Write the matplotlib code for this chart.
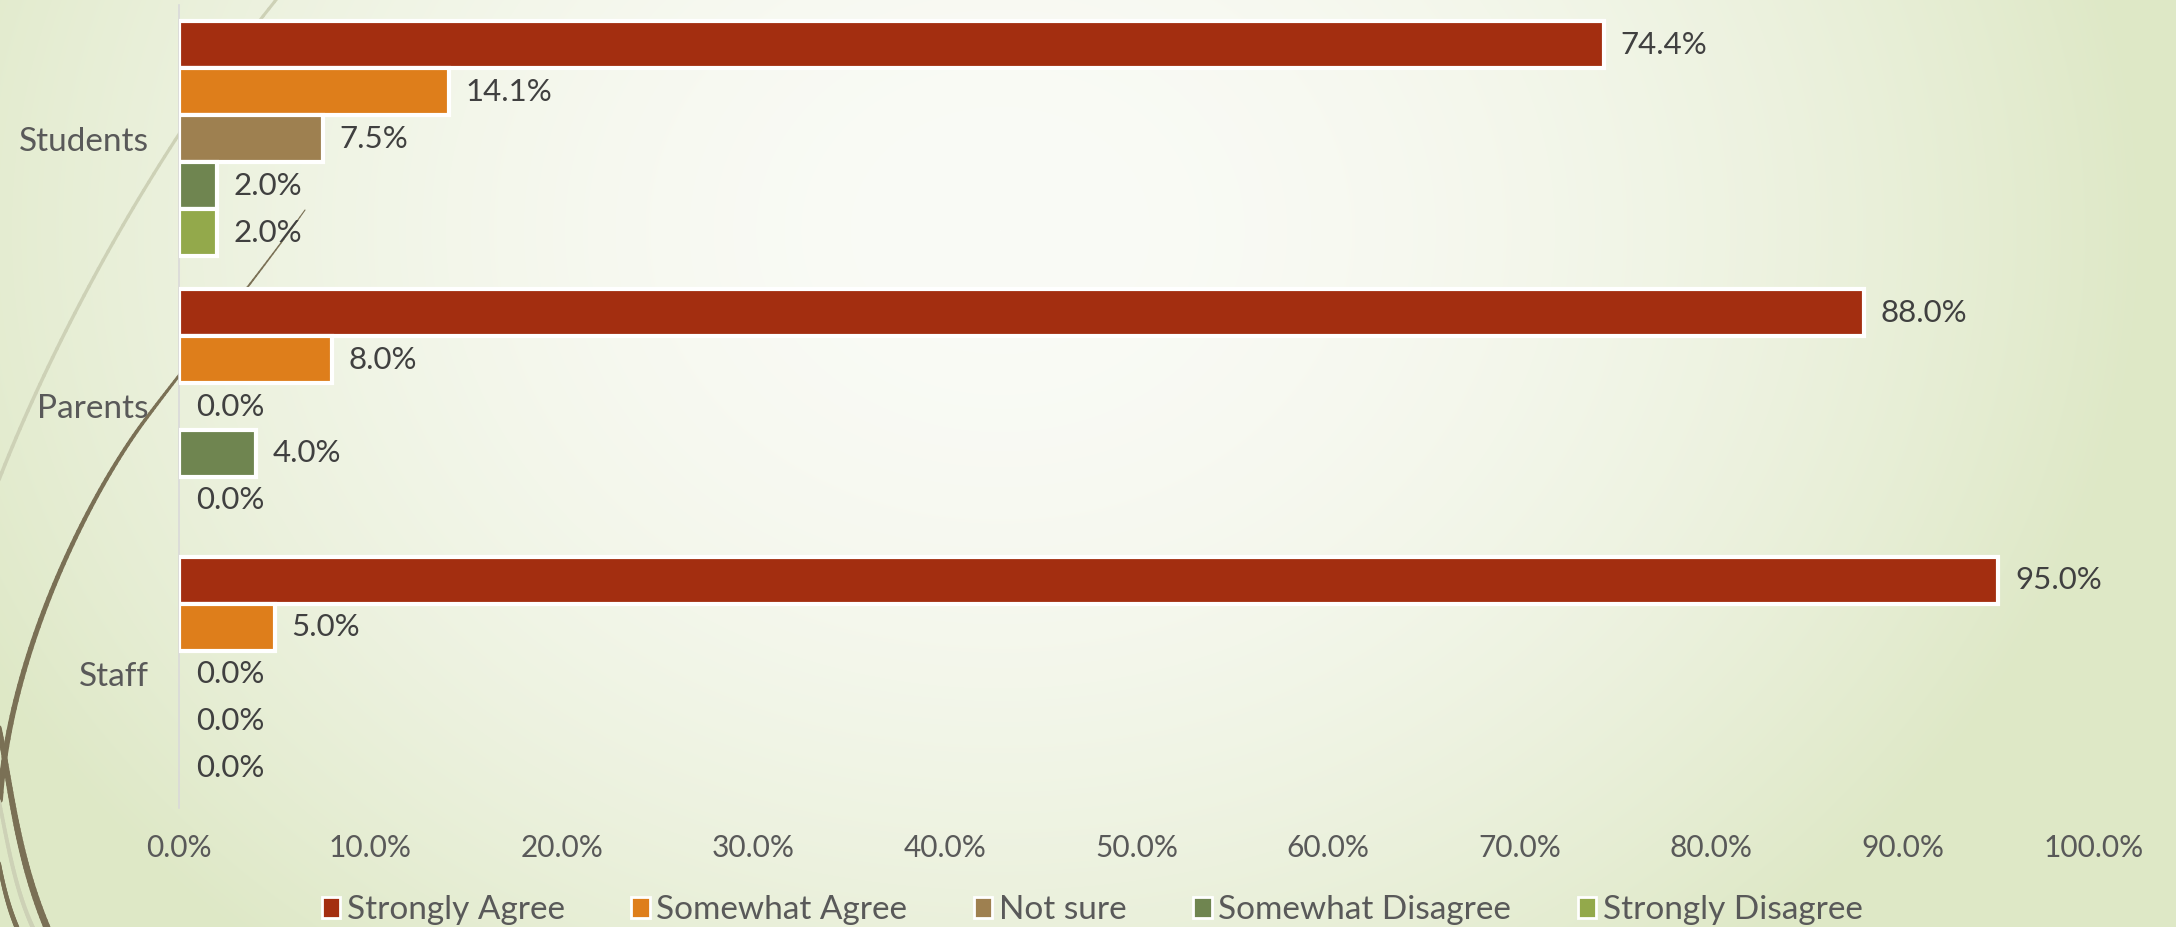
import numpy as np
import matplotlib
matplotlib.use("Agg")
import matplotlib.pyplot as plt
from matplotlib.patches import Patch
from matplotlib.collections import LineCollection

plt.rcParams['font.family'] = ['Lato', 'DejaVu Sans']

# survey data (percent)
groups = ['Students', 'Parents', 'Staff']
responses = ['Strongly Agree', 'Somewhat Agree', 'Not sure',
             'Somewhat Disagree', 'Strongly Disagree']
strongly_agree = [74.4, 88.0, 95.0]
somewhat_agree = [14.1, 8.0, 5.0]
not_sure = [7.5, 0.0, 0.0]
somewhat_disagree = [2.0, 4.0, 0.0]
strongly_disagree = [2.0, 0.0, 0.0]
series = [strongly_agree, somewhat_agree, not_sure,
          somewhat_disagree, strongly_disagree]
colors = ['#A32E10', '#DE7E1B', '#9E8050', '#6F8550', '#93A94B']
x_ticks = [0, 10, 20, 30, 40, 50, 60, 70, 80, 90, 100]

W, H = 2176, 927
fig = plt.figure(figsize=(W / 100, H / 100), dpi=100)

# slide background: soft radial gradient + decorative wisps
bg = fig.add_axes([0, 0, 1, 1], zorder=-1)
yy, xx = np.mgrid[0:H, 0:W]
d = np.sqrt(((xx - 1000) / 1150.0) ** 2 + ((yy - 230) / 950.0) ** 2)
t = np.clip(d, 0, 1) ** 1.9
c0 = np.array([250, 251, 246]) / 255.0
c1 = np.array([222, 232, 198]) / 255.0
img = c0[None, None, :] + (c1 - c0)[None, None, :] * t[..., None]
bg.imshow(img, extent=[0, W, H, 0], aspect='auto', interpolation='bilinear')
bg.set_xlim(0, W)
bg.set_ylim(H, 0)
bg.axis('off')


def bezier(p0, p1, p2, p3, n=60):
    s = np.linspace(0, 1, n)[:, None]
    p0, p1, p2, p3 = map(np.array, (p0, p1, p2, p3))
    return (1 - s) ** 3 * p0 + 3 * (1 - s) ** 2 * s * p1 + 3 * (1 - s) * s ** 2 * p2 + s ** 3 * p3


def wisp(pts, color, w0, w1):
    segs = np.stack([pts[:-1], pts[1:]], axis=1)
    lc = LineCollection(segs, colors=color, linewidths=np.linspace(w0, w1, len(segs)),
                        capstyle='round')
    bg.add_collection(lc)


wisp(bezier((280, -5), (170, 130), (60, 320), (-5, 490)), '#cdd1b6', 2.2, 2.6)
b1 = bezier((305, 210), (255, 280), (190, 360), (145, 420))
b2 = bezier((145, 420), (91, 492), (10, 650), (0, 800))
wisp(np.vstack([b1, b2]), '#7a7055', 0.8, 4.2)
wisp(bezier((-10, 690), (10, 760), (10, 840), (48, 930)), '#7a7055', 3.5, 5.0)
wisp(bezier((-10, 760), (5, 820), (10, 880), (34, 930)), '#cdd1b6', 2.5, 3.0)
wisp(bezier((-5, 840), (0, 870), (5, 900), (18, 930)), '#7a7055', 2.5, 3.5)

# chart
ax = fig.add_axes([179 / W, 1 - 808 / H, (2094 - 179) / W, (808 - 5) / H])
ax.set_facecolor('none')
n = len(series)
h = 47 / 268
pos = np.arange(len(groups))
for i, (vals, col, name) in enumerate(zip(series, colors, responses)):
    y = pos + (i - (n - 1) / 2) * h
    lws = [3.0 if v > 0 else 0 for v in vals]
    ax.barh(y, vals, height=h, color=col, edgecolor='white', linewidth=lws,
            label=name, zorder=3)
    for yi, v in zip(y, vals):
        ax.annotate(f'{v:.1f}%', xy=(v, yi), xytext=(12, 0), textcoords='offset points',
                    ha='left', va='center', fontsize=22.5, color='#404040', zorder=4)

ax.set_xlim(0, 100)
ax.set_ylim(len(groups) - 0.5, -0.5)
ax.set_xticks(x_ticks)
ax.set_xticklabels([f'{v:.1f}%' for v in x_ticks])
ax.set_yticks(pos)
ax.set_yticklabels(groups)
ax.tick_params(axis='x', length=0, pad=19, labelsize=21.5, labelcolor='#595959')
ax.tick_params(axis='y', length=0, pad=22, labelsize=24, labelcolor='#595959')
for side in ['top', 'right', 'bottom']:
    ax.spines[side].set_visible(False)
ax.spines['left'].set_color('#d9d9d9')
ax.spines['left'].set_linewidth(1.2)

handles = [Patch(facecolor=c, edgecolor='white', linewidth=2, label=r)
           for c, r in zip(colors, responses)]
fig.legend(handles=handles, loc='center', bbox_to_anchor=(0.502, 0.018), ncol=5,
           frameon=False, fontsize=24, labelcolor='#595959', handlelength=0.55,
           handleheight=0.55, handletextpad=0.2, columnspacing=2.0, borderaxespad=0)

fig.savefig('out.png', dpi=100)
